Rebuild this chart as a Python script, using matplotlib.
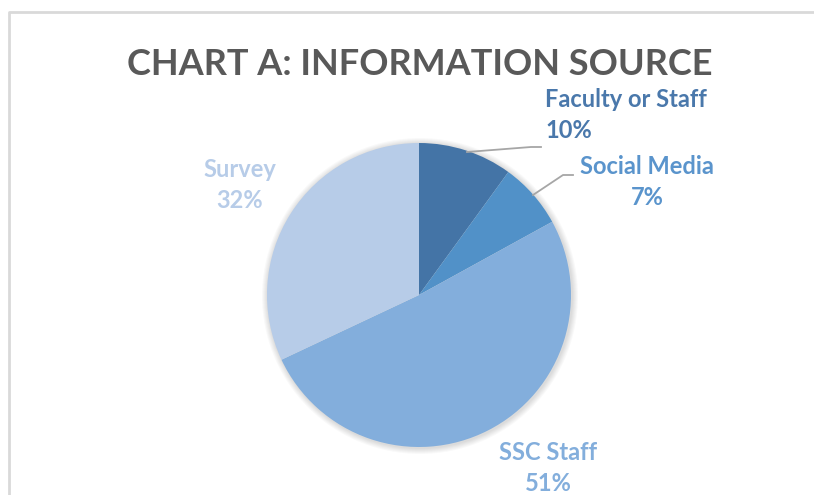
import matplotlib.pyplot as plt
import matplotlib.patches as mpatches
import numpy as np

sources = ['Faculty or Staff', 'Social Media', 'SSC Staff', 'Survey']
shares = [10, 7, 51, 32]
slice_colors = ['#4474a6', '#5191c8', '#83aedc', '#b7cce8']
text_colors = ['#4a78ab', '#5a94cc', '#83aedc', '#b7cce8']

W, H = 814, 495
plt.rcParams['font.family'] = ['Lato', 'DejaVu Sans']

fig = plt.figure(figsize=(W / 100, H / 100), dpi=100)
ax = fig.add_axes([0, 0, 1, 1])

# chart frame (only top/left edges visible in the crop)
ax.plot([9, 9, W], [0, H - 12, H - 12], color='#d9d9d9', lw=2, solid_capstyle='butt')

cx, cy, r = 419, H - 295, 152

# soft shadow under the pie
for k in range(6):
    ax.add_patch(mpatches.Circle((cx + 1, cy - 1), r + 1 + k, color='black',
                                 alpha=0.025, lw=0, zorder=1))

ax.pie(shares, colors=slice_colors, startangle=90, counterclock=False,
       center=(cx, cy), radius=r, frame=True,
       wedgeprops=dict(linewidth=0, zorder=2))
ax.set_xlim(0, W)
ax.set_ylim(0, H)
ax.set_aspect('equal')
ax.axis('off')

ax.text(420, H - 75, 'CHART A: INFORMATION SOURCE', ha='center', va='baseline',
        fontsize=26, color='#595959', fontweight='bold')

# label layout: (x, first baseline, alignment)
label_pos = [(545, 107, 'left'), (647, 174, 'center'), (548, 460, 'center'), (240, 177, 'center')]
for name, pct, col, (x, y, ha) in zip(sources, shares, text_colors, label_pos):
    ax.text(x, H - y, name, ha=ha, va='baseline', fontsize=17, fontweight='bold', color=col)
    ax.text(x, H - y - 31, f'{pct}%', ha=ha, va='baseline',
            fontsize=17, fontweight='bold', color=col)

# leader lines
ax.plot([467, 531, 541], [H - 152, H - 147, H - 147], color='#a6a6a6', lw=1.3, zorder=3)
ax.plot([533, 563, 573], [H - 195, H - 175, H - 175], color='#a6a6a6', lw=1.3, zorder=3)

plt.savefig('out.png', dpi=100)
